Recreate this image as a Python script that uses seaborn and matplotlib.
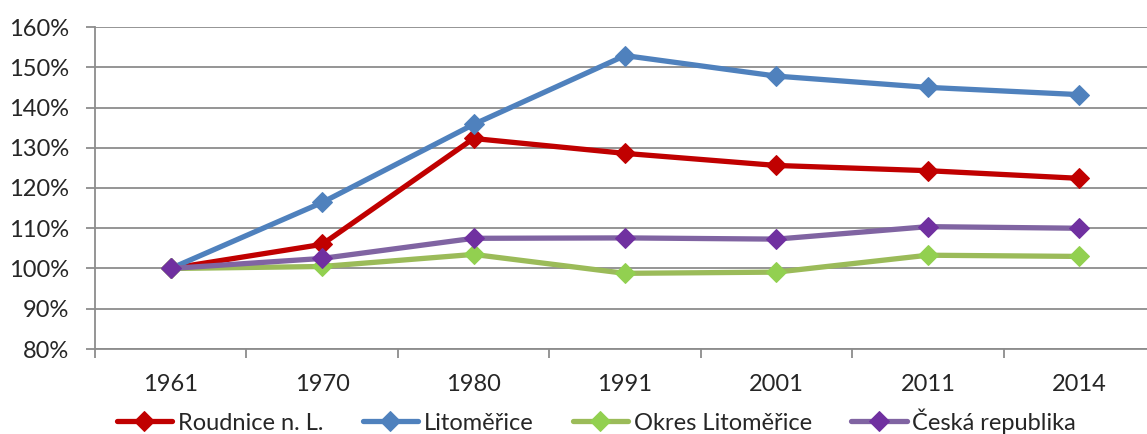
import matplotlib
matplotlib.use("Agg")
import matplotlib.pyplot as plt
import seaborn as sns
import pandas as pd
from matplotlib.ticker import FixedLocator, NullFormatter

years = ["1961", "1970", "1980", "1991", "2001", "2011", "2014"]
roudnice = [100.0, 106.0, 132.3, 128.6, 125.6, 124.3, 122.4]
litomerice = [100.0, 116.4, 135.8, 152.9, 147.8, 145.0, 143.2]
okres = [100.0, 100.5, 103.5, 98.8, 99.1, 103.3, 103.0]
cr = [100.0, 102.5, 107.5, 107.6, 107.3, 110.4, 110.0]

series_names = ["Roudnice n. L.", "Litoměřice", "Okres Litoměřice", "Česká republika"]
series_vals = [roudnice, litomerice, okres, cr]
line_colors = ["#C00000", "#4F81BD", "#9BBB59", "#8064A2"]
marker_colors = ["#C00000", "#4F81BD", "#92D050", "#7030A0"]

sns.set_theme(style="white")
plt.rcParams["font.family"] = ["Lato", "DejaVu Sans"]
FS = 17

fig = plt.figure(figsize=(11.47, 4.34), dpi=100)
ax = fig.add_axes([95 / 1147, 85 / 434, 1060 / 1147, 322 / 434])

frames = []
for name, vals in zip(series_names, series_vals):
    frames.append(pd.DataFrame({"year": years, "value": vals, "series": name}))
df = pd.concat(frames, ignore_index=True)
df["pos"] = df["year"].map({y: i for i, y in enumerate(years)})

for name, lc, mc in zip(series_names, line_colors, marker_colors):
    sub = df[df["series"] == name]
    sns.lineplot(data=sub, x="pos", y="value", ax=ax, color=lc, linewidth=3.8,
                 marker="D", markersize=10, markerfacecolor=mc, markeredgecolor=mc,
                 label=name, legend=False)

ax.set_xlim(-0.5, len(years) - 0.5)
ax.set_ylim(80, 160)
ax.set_yticks(range(80, 161, 10))
ax.set_yticklabels([f"{v}%" for v in range(80, 161, 10)], fontsize=FS)
ax.yaxis.grid(True, color="#8C8C8C", linewidth=1.3)
ax.set_axisbelow(True)

ax.xaxis.set_major_locator(FixedLocator([i + 0.5 for i in range(-1, len(years))]))
ax.xaxis.set_major_formatter(NullFormatter())
ax.xaxis.set_minor_locator(FixedLocator(list(range(len(years)))))
ax.set_xticklabels(years, minor=True, fontsize=FS)
ax.tick_params(axis="x", which="major", length=6.5, width=1.3, color="#8C8C8C", direction="out", bottom=True)
ax.tick_params(axis="x", which="minor", length=0, pad=18)
ax.tick_params(axis="y", length=6.5, width=1.3, color="#8C8C8C", direction="out", left=True, pad=12)
ax.set_xlabel("")
ax.set_ylabel("")

for s in ["top", "right"]:
    ax.spines[s].set_visible(False)
for s in ["left", "bottom"]:
    ax.spines[s].set_color("#8C8C8C")
    ax.spines[s].set_linewidth(1.3)

handles, labels = ax.get_legend_handles_labels()
fig.legend(handles, labels, loc="center", bbox_to_anchor=(0.52, 0.03), ncol=4,
           frameon=False, fontsize=FS, handlelength=2.35, handletextpad=0.25,
           columnspacing=1.65)

fig.savefig("out.png", dpi=100)
